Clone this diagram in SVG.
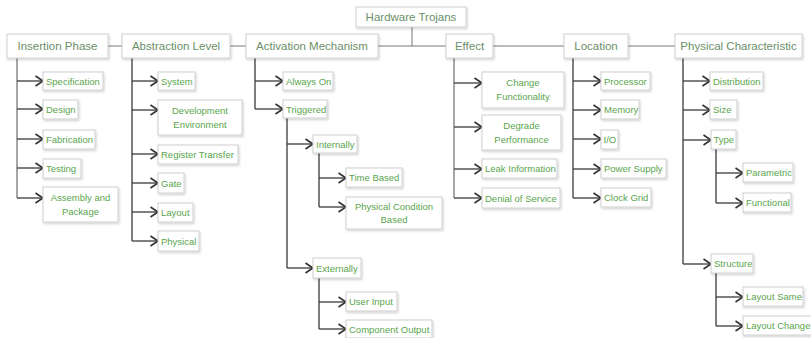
<svg xmlns="http://www.w3.org/2000/svg" width="811" height="338" viewBox="0 0 811 338">
<defs>
<filter id="sh" x="-10%" y="-10%" width="130%" height="140%">
<feDropShadow dx="1" dy="1.5" stdDeviation="1" flood-color="#000" flood-opacity="0.18"/>
</filter>
<marker id="ar" markerUnits="userSpaceOnUse" markerWidth="10" markerHeight="12" refX="8.5" refY="6" orient="auto">
<path d="M1,1 L8.5,6 L1,11" fill="none" stroke="#333" stroke-width="1.6"/>
</marker>
</defs>
<style>
rect{fill:#fff;stroke:#cfcfcf;stroke-width:1;filter:url(#sh)}
text{font-family:"Liberation Sans",Arial,sans-serif}
.t{font-size:11.5px;fill:#6b8f68;text-anchor:middle}
.c{font-size:9.5px;fill:#5aa54e}
.m{font-size:9.5px;fill:#5aa54e;text-anchor:middle}
.top{fill:none;stroke:#777;stroke-width:1}
.ln{fill:none;stroke:#3a3a3a;stroke-width:1.3}
.ln2{fill:none;stroke:#777;stroke-width:1.3}
.a{fill:none;stroke:#3a3a3a;stroke-width:1.3;marker-end:url(#ar)}
</style>
<rect x="0" y="0" width="811" height="338" style="fill:#fff;stroke:none;filter:none"/>
<g id="connectors">
<path class="top" d="M412,27 V46 M108,46 H122 M230,46 H246 M378,46 H446 M493,46 H564 M628,46 H675"/>
<path class="ln2" d="M17,58 V198"/>
<path class="a" d="M17,81 H43"/><path class="a" d="M17,109 H43"/><path class="a" d="M17,139 H43"/><path class="a" d="M17,168 H43"/><path class="a" d="M17,198 H43"/>
<path class="ln" d="M132,58 V241"/>
<path class="a" d="M132,81 H158"/><path class="a" d="M132,110 H158"/><path class="a" d="M132,154 H158"/><path class="a" d="M132,183 H158"/><path class="a" d="M132,212 H158"/><path class="a" d="M132,241 H158"/>
<path class="ln" d="M255,58 V109"/>
<path class="a" d="M255,81 H283"/><path class="a" d="M255,109 H283"/>
<path class="ln" d="M287,118 V268"/>
<path class="a" d="M287,144 H313"/><path class="a" d="M287,268 H313"/>
<path class="ln" d="M319,153 V207 M319,278 V329"/>
<path class="a" d="M319,178 H346"/><path class="a" d="M319,207 H346"/><path class="a" d="M319,302 H346"/><path class="a" d="M319,329 H346"/>
<path class="ln2" d="M454,58 V198"/>
<path class="a" d="M454,83 H482"/><path class="a" d="M454,127 H482"/><path class="a" d="M454,169 H482"/><path class="a" d="M454,198 H482"/>
<path class="ln" d="M573,58 V198"/>
<path class="a" d="M573,81 H601"/><path class="a" d="M573,110 H601"/><path class="a" d="M573,139 H601"/><path class="a" d="M573,169 H601"/><path class="a" d="M573,198 H601"/>
<path class="ln" d="M683,58 V264"/>
<path class="a" d="M683,81 H710"/><path class="a" d="M683,110 H710"/><path class="a" d="M683,140 H711"/><path class="a" d="M683,264 H711"/>
<path class="ln" d="M716,149 V203 M716,273 V326"/>
<path class="a" d="M716,173 H743"/><path class="a" d="M716,203 H743"/><path class="a" d="M716,297 H743"/><path class="a" d="M716,326 H743"/>
</g>
<g id="n-hardware-trojans"><rect x="356" y="7" width="110" height="20"/><text class="t" x="411" y="21">Hardware Trojans</text></g>
<g id="n-insertion-phase"><rect x="7" y="34" width="101" height="24"/><text class="t" x="57.5" y="50">Insertion Phase</text></g>
<g id="n-abstraction-level"><rect x="122" y="34" width="108" height="24"/><text class="t" x="176" y="50">Abstraction Level</text></g>
<g id="n-activation-mechanism"><rect x="246" y="34" width="132" height="24"/><text class="t" x="312" y="50">Activation Mechanism</text></g>
<g id="n-effect"><rect x="446" y="34" width="47" height="24"/><text class="t" x="469.5" y="50">Effect</text></g>
<g id="n-location"><rect x="564" y="34" width="64" height="24"/><text class="t" x="596" y="50">Location</text></g>
<g id="n-physical-characteristic"><rect x="675" y="34" width="127" height="24"/><text class="t" x="738.5" y="50">Physical Characteristic</text></g>

<g id="n-specification"><rect x="43" y="72" width="60" height="18"/><text class="c" x="46" y="84.5">Specification</text></g>
<g id="n-design"><rect x="43" y="100" width="35" height="19"/><text class="c" x="46" y="113">Design</text></g>
<g id="n-fabrication"><rect x="43" y="130" width="52" height="19"/><text class="c" x="46" y="143">Fabrication</text></g>
<g id="n-testing"><rect x="43" y="159" width="38" height="19"/><text class="c" x="46" y="172">Testing</text></g>
<g id="n-assembly"><rect x="43" y="187" width="75" height="35"/><text class="m" x="80.5" y="201">Assembly and</text><text class="m" x="80.5" y="215">Package</text></g>

<g id="n-system"><rect x="158" y="72" width="37" height="18"/><text class="c" x="161" y="84.5">System</text></g>
<g id="n-dev-env"><rect x="158" y="100" width="84" height="35"/><text class="m" x="200" y="114">Development</text><text class="m" x="200" y="128">Environment</text></g>
<g id="n-register-transfer"><rect x="158" y="145" width="80" height="19"/><text class="c" x="161" y="158">Register Transfer</text></g>
<g id="n-gate"><rect x="158" y="173" width="26" height="20"/><text class="c" x="161" y="186.5">Gate</text></g>
<g id="n-layout"><rect x="158" y="203" width="35" height="19"/><text class="c" x="161" y="216">Layout</text></g>
<g id="n-physical"><rect x="158" y="231" width="41" height="20"/><text class="c" x="161" y="244.5">Physical</text></g>

<g id="n-always-on"><rect x="283" y="72" width="50" height="18"/><text class="c" x="286" y="84.5">Always On</text></g>
<g id="n-triggered"><rect x="283" y="100" width="44" height="18"/><text class="c" x="286" y="112.5">Triggered</text></g>
<g id="n-internally"><rect x="313" y="135" width="44" height="18"/><text class="c" x="316" y="147.5">Internally</text></g>
<g id="n-time-based"><rect x="346" y="168" width="56" height="19"/><text class="c" x="349" y="181">Time Based</text></g>
<g id="n-physical-condition"><rect x="346" y="197" width="96" height="32"/><text class="m" x="394" y="210">Physical Condition</text><text class="m" x="394" y="223">Based</text></g>
<g id="n-externally"><rect x="313" y="258" width="48" height="20"/><text class="c" x="316" y="271.5">Externally</text></g>
<g id="n-user-input"><rect x="346" y="292" width="51" height="19"/><text class="c" x="349" y="305">User Input</text></g>
<g id="n-component-output"><rect x="346" y="320" width="86" height="18"/><text class="c" x="349" y="332.5">Component Output</text></g>

<g id="n-change-functionality"><rect x="482" y="72" width="82" height="36"/><text class="m" x="523" y="86">Change</text><text class="m" x="523" y="100">Functionality</text></g>
<g id="n-degrade-performance"><rect x="482" y="115" width="79" height="35"/><text class="m" x="521.5" y="129">Degrade</text><text class="m" x="521.5" y="143">Performance</text></g>
<g id="n-leak-information"><rect x="482" y="159" width="75" height="19"/><text class="c" x="485" y="172">Leak Information</text></g>
<g id="n-denial-of-service"><rect x="482" y="188" width="78" height="20"/><text class="c" x="485" y="201.5">Denial of Service</text></g>

<g id="n-processor"><rect x="601" y="72" width="49" height="18"/><text class="c" x="604" y="84.5">Processor</text></g>
<g id="n-memory"><rect x="601" y="100" width="38" height="19"/><text class="c" x="604" y="113">Memory</text></g>
<g id="n-io"><rect x="601" y="130" width="17" height="19"/><text class="c" x="603.5" y="143">I/O</text></g>
<g id="n-power-supply"><rect x="601" y="159" width="65" height="19"/><text class="c" x="604" y="172">Power Supply</text></g>
<g id="n-clock-grid"><rect x="601" y="188" width="50" height="19"/><text class="c" x="604" y="201">Clock Grid</text></g>

<g id="n-distribution"><rect x="710" y="72" width="53" height="18"/><text class="c" x="713" y="84.5">Distribution</text></g>
<g id="n-size"><rect x="710" y="100" width="27" height="19"/><text class="c" x="713" y="113">Size</text></g>
<g id="n-type"><rect x="711" y="130" width="25" height="19"/><text class="c" x="713.5" y="143">Type</text></g>
<g id="n-parametric"><rect x="743" y="163" width="50" height="19"/><text class="c" x="746" y="176">Parametric</text></g>
<g id="n-functional"><rect x="743" y="193" width="48" height="19"/><text class="c" x="746" y="206">Functional</text></g>
<g id="n-structure"><rect x="711" y="254" width="42" height="19"/><text class="c" x="714" y="267">Structure</text></g>
<g id="n-layout-same"><rect x="743" y="287" width="60" height="19"/><text class="c" x="746" y="300">Layout Same</text></g>
<g id="n-layout-change"><rect x="743" y="316" width="70" height="19"/><text class="c" x="746" y="329">Layout Change</text></g>
</svg>
